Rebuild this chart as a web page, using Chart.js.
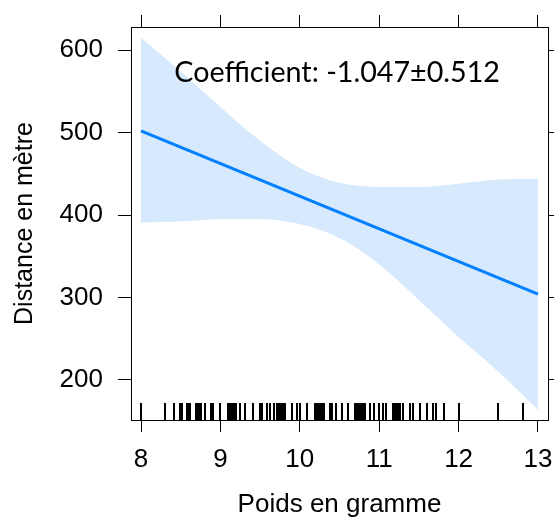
<!DOCTYPE html>
<html>
<head>
<meta charset="utf-8">
<script src="https://cdn.jsdelivr.net/npm/chart.js@4.4.0/dist/chart.umd.min.js"></script>
<style>
  html, body { margin: 0; padding: 0; background: #fff; overflow: hidden; }
</style>
</head>
<body>
<canvas id="myChart" width="554" height="518"></canvas>
<script>

// effect of weight on distance
const bandX     = [8, 8.5, 9, 9.5, 10, 10.5, 11, 11.5, 12, 12.5, 13];
const bandUpper = [615, 574, 531, 490, 457, 439, 434, 434, 438, 443, 444];
const bandLower = [391, 392, 395, 395, 389, 372, 340, 297, 252, 210, 164];

const fitX = [8, 13];
const fitY = [502, 304];

// observed weights (rug)
const rugWeights = [8.0, 8.30, 8.41, 8.49, 8.52, 8.58, 8.60, 8.62, 8.69, 8.71, 8.73, 8.76,
  8.81, 8.88, 8.91, 9.0, 9.10, 9.12, 9.14, 9.16, 9.18, 9.20, 9.25, 9.31, 9.41, 9.50, 9.52,
  9.59, 9.62, 9.67, 9.71, 9.73, 9.75, 9.77, 9.79, 9.81, 9.90, 9.96, 10.0, 10.09,
  10.19, 10.21, 10.23, 10.25, 10.27, 10.29, 10.31, 10.38, 10.40, 10.46, 10.53, 10.61,
  10.70, 10.72, 10.74, 10.76, 10.78, 10.80, 10.82, 10.88, 10.93, 11.0, 11.05, 11.09,
  11.18, 11.20, 11.22, 11.24, 11.26, 11.30, 11.39, 11.43, 11.51, 11.60, 11.68, 11.72,
  11.81, 12.0, 12.50, 12.81];

const xTicks = [8, 9, 10, 11, 12, 13];
const yTicks = [200, 300, 400, 500, 600];

const xTitle = 'Poids en gramme';
const yTitle = 'Distance en mètre';
const noteText = 'Coefficient: -1.047±0.512';


const ctx = document.getElementById('myChart').getContext('2d');
Chart.defaults.font.family = 'Liberation Sans';
Chart.defaults.color = '#000';

const tickFont = { family: 'Liberation Sans', size: 26 };

function setTicks(list) {
    return scale => { scale.ticks = list.map(v => ({ value: v })); };
}
function noPad(scale) {
    scale.paddingLeft = 0; scale.paddingRight = 0;
    scale.paddingTop = 0; scale.paddingBottom = 0;
}

// rug of observed weights along the bottom of the panel
const rugPlugin = {
    id: 'rug',
    afterDatasetsDraw(chart) {
        const c = chart.ctx;
        const xs = chart.scales.x;
        const bottom = chart.chartArea.bottom;
        c.save();
        c.strokeStyle = '#000';
        c.lineWidth = 2;
        rugWeights.forEach(w => {
            const px = Math.round(xs.getPixelForValue(w));
            c.beginPath();
            c.moveTo(px, bottom - 17);
            c.lineTo(px, bottom);
            c.stroke();
        });
        c.restore();
    }
};

// coefficient text in the panel
const notePlugin = {
    id: 'note',
    afterDraw(chart) {
        const c = chart.ctx;
        const x0 = chart.scales.x.getPixelForValue(8.42);
        const x1 = chart.scales.x.getPixelForValue(12.52);
        const y0 = chart.scales.y.getPixelForValue(561);
        c.save();
        c.font = '28px Lato';
        c.fillStyle = '#000';
        c.textBaseline = 'alphabetic';
        const w = c.measureText(noteText).width;
        c.translate(x0, y0);
        c.scale((x1 - x0) / w, 1);
        c.fillText(noteText, 0, 0);
        c.restore();
    }
};

const axisGrid = (len) => ({
    drawOnChartArea: false,
    drawTicks: true,
    tickLength: len,
    color: '#000',
    tickColor: '#000',
    lineWidth: 1
});
const axisBorder = { display: true, color: '#000', width: 1 };

const myChart = new Chart(ctx, {
    type: 'line',
    data: {
        datasets: [
            {
                label: 'fit',
                data: fitX.map((x, i) => ({ x: x, y: fitY[i] })),
                borderColor: '#0080ff',
                borderWidth: 3,
                pointRadius: 0,
                fill: false,
                xAxisID: 'x', yAxisID: 'y'
            },
            {
                label: 'upper',
                data: bandX.map((x, i) => ({ x: x, y: bandUpper[i] })),
                borderColor: 'rgba(0,0,0,0)',
                borderWidth: 0,
                pointRadius: 0,
                cubicInterpolationMode: 'monotone',
                backgroundColor: '#d7e9fd',
                fill: '+1',
                xAxisID: 'x', yAxisID: 'y'
            },
            {
                label: 'lower',
                data: bandX.map((x, i) => ({ x: x, y: bandLower[i] })),
                borderColor: 'rgba(0,0,0,0)',
                borderWidth: 0,
                pointRadius: 0,
                cubicInterpolationMode: 'monotone',
                fill: false,
                xAxisID: 'x', yAxisID: 'y'
            }
        ]
    },
    options: {
        responsive: false,
        animation: false,
        devicePixelRatio: 1,
        layout: { padding: 0 },
        plugins: {
            legend: { display: false },
            tooltip: { enabled: false }
        },
        scales: {
            x: {
                type: 'linear',
                position: 'bottom',
                min: 7.874, max: 13.126,
                afterBuildTicks: setTicks(xTicks),
                ticks: { font: tickFont, padding: 12, autoSkip: false, maxRotation: 0 },
                grid: axisGrid(12),
                border: axisBorder,
                title: {
                    display: true,
                    text: xTitle,
                    font: { family: 'Liberation Sans', size: 26, lineHeight: 1 },
                    padding: { top: 0, bottom: 0 },
                    color: '#000'
                },
                afterFit: s => { s.height = 98; noPad(s); }
            },
            x2: {
                type: 'linear',
                position: 'top',
                min: 7.874, max: 13.126,
                afterBuildTicks: setTicks(xTicks),
                ticks: { display: false },
                grid: axisGrid(12),
                border: axisBorder,
                afterFit: s => { s.height = 27; noPad(s); }
            },
            y: {
                type: 'linear',
                position: 'left',
                min: 151.5, max: 627.9,
                afterBuildTicks: setTicks(yTicks),
                ticks: { font: tickFont, padding: 15, autoSkip: false },
                grid: axisGrid(13),
                border: axisBorder,
                title: {
                    display: true,
                    text: yTitle,
                    font: { family: 'Liberation Sans', size: 25, lineHeight: 1 },
                    padding: { top: 13, bottom: 0 },
                    color: '#000'
                },
                afterFit: s => { s.width = 131; noPad(s); }
            },
            y2: {
                type: 'linear',
                position: 'right',
                min: 151.5, max: 627.9,
                afterBuildTicks: setTicks(yTicks),
                ticks: { display: false },
                grid: axisGrid(6),
                border: axisBorder,
                afterFit: s => { s.width = 6; noPad(s); }
            }
        }
    },
    plugins: [rugPlugin, notePlugin]
});

</script>
</body>
</html>
